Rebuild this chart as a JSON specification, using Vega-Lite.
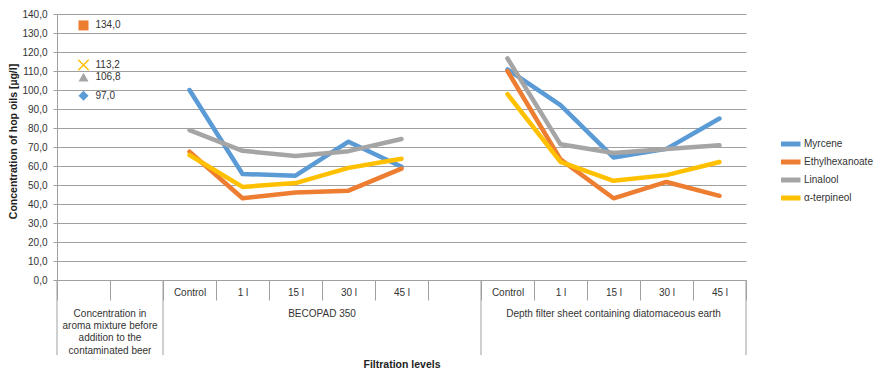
{
  "$schema": "https://vega.github.io/schema/vega-lite/v6.json",
  "width": 689,
  "height": 266,
  "autosize": {"type": "none"},
  "padding": {"left": 57, "top": 14, "right": 130, "bottom": 93},
  "config": {
    "locale": {"number": {"decimal": ",", "thousands": ".", "grouping": [3], "currency": ["", " €"]}},
    "view": {"stroke": null},
    "font": "Liberation Sans",
    "text": {"font": "Liberation Sans", "fontSize": 10, "color": "#333333"},
    "axis": {
      "labelFont": "Liberation Sans",
      "labelFontSize": 10,
      "labelColor": "#333333",
      "titleFont": "Liberation Sans",
      "titleFontSize": 10.5,
      "titleFontWeight": "bold",
      "titleColor": "#222222",
      "domain": true,
      "domainColor": "#a0a0a0",
      "tickColor": "#a0a0a0",
      "gridColor": "#a0a0a0",
      "gridOpacity": 1
    },
    "legend": {
      "labelFont": "Liberation Sans",
      "labelFontSize": 10,
      "labelColor": "#333333"
    }
  },
  "datasets": {
    "lines": [
      {"stage": "c02:Control", "block": "B", "oil": "Myrcene", "value": 100.0},
      {"stage": "c03:1 l", "block": "B", "oil": "Myrcene", "value": 55.8},
      {"stage": "c04:15 l", "block": "B", "oil": "Myrcene", "value": 54.9},
      {"stage": "c05:30 l", "block": "B", "oil": "Myrcene", "value": 72.8},
      {"stage": "c06:45 l", "block": "B", "oil": "Myrcene", "value": 59.6},
      {"stage": "c08:Control", "block": "D", "oil": "Myrcene", "value": 110.8},
      {"stage": "c09:1 l", "block": "D", "oil": "Myrcene", "value": 92.0},
      {"stage": "c10:15 l", "block": "D", "oil": "Myrcene", "value": 64.5},
      {"stage": "c11:30 l", "block": "D", "oil": "Myrcene", "value": 69.0},
      {"stage": "c12:45 l", "block": "D", "oil": "Myrcene", "value": 85.0},
      {"stage": "c02:Control", "block": "B", "oil": "Ethylhexanoate", "value": 67.5},
      {"stage": "c03:1 l", "block": "B", "oil": "Ethylhexanoate", "value": 43.0},
      {"stage": "c04:15 l", "block": "B", "oil": "Ethylhexanoate", "value": 46.0},
      {"stage": "c05:30 l", "block": "B", "oil": "Ethylhexanoate", "value": 47.0},
      {"stage": "c06:45 l", "block": "B", "oil": "Ethylhexanoate", "value": 58.6},
      {"stage": "c08:Control", "block": "D", "oil": "Ethylhexanoate", "value": 110.0},
      {"stage": "c09:1 l", "block": "D", "oil": "Ethylhexanoate", "value": 63.5},
      {"stage": "c10:15 l", "block": "D", "oil": "Ethylhexanoate", "value": 43.0},
      {"stage": "c11:30 l", "block": "D", "oil": "Ethylhexanoate", "value": 51.6},
      {"stage": "c12:45 l", "block": "D", "oil": "Ethylhexanoate", "value": 44.3},
      {"stage": "c02:Control", "block": "B", "oil": "Linalool", "value": 78.9},
      {"stage": "c03:1 l", "block": "B", "oil": "Linalool", "value": 68.0},
      {"stage": "c04:15 l", "block": "B", "oil": "Linalool", "value": 65.3},
      {"stage": "c05:30 l", "block": "B", "oil": "Linalool", "value": 67.8},
      {"stage": "c06:45 l", "block": "B", "oil": "Linalool", "value": 74.2},
      {"stage": "c08:Control", "block": "D", "oil": "Linalool", "value": 116.6},
      {"stage": "c09:1 l", "block": "D", "oil": "Linalool", "value": 71.4},
      {"stage": "c10:15 l", "block": "D", "oil": "Linalool", "value": 66.8},
      {"stage": "c11:30 l", "block": "D", "oil": "Linalool", "value": 68.9},
      {"stage": "c12:45 l", "block": "D", "oil": "Linalool", "value": 70.9},
      {"stage": "c02:Control", "block": "B", "oil": "α-terpineol", "value": 65.8},
      {"stage": "c03:1 l", "block": "B", "oil": "α-terpineol", "value": 49.0},
      {"stage": "c04:15 l", "block": "B", "oil": "α-terpineol", "value": 51.0},
      {"stage": "c05:30 l", "block": "B", "oil": "α-terpineol", "value": 59.0},
      {"stage": "c06:45 l", "block": "B", "oil": "α-terpineol", "value": 63.8},
      {"stage": "c08:Control", "block": "D", "oil": "α-terpineol", "value": 97.8},
      {"stage": "c09:1 l", "block": "D", "oil": "α-terpineol", "value": 62.2},
      {"stage": "c10:15 l", "block": "D", "oil": "α-terpineol", "value": 52.2},
      {"stage": "c11:30 l", "block": "D", "oil": "α-terpineol", "value": 55.2},
      {"stage": "c12:45 l", "block": "D", "oil": "α-terpineol", "value": 62.1}
    ],
    "markers": [
      {"stage": "c00:", "oil": "Myrcene", "value": 97.0},
      {"stage": "c00:", "oil": "Ethylhexanoate", "value": 134.0},
      {"stage": "c00:", "oil": "Linalool", "value": 106.8},
      {"stage": "c00:", "oil": "α-terpineol", "value": 113.2}
    ],
    "seps": [
      {"stage": "c00:"},
      {"stage": "c02:Control"},
      {"stage": "c08:Control"}
    ],
    "groupsEdge": [
      {"stage": "c01:", "label": "Concentration in\naroma mixture before\naddition to the\ncontaminated beer"},
      {"stage": "c05:30 l", "label": "BECOPAD 350"}
    ],
    "groupsMid": [
      {"stage": "c10:15 l", "label": "Depth filter sheet containing diatomaceous earth"}
    ]
  },
  "layer": [
    {
      "data": {"name": "lines"},
      "mark": {"type": "line", "strokeWidth": 4.5, "strokeJoin": "round", "strokeCap": "round"},
      "encoding": {
        "x": {
          "field": "stage", "type": "nominal", "title": "Filtration levels",
          "scale": {"type": "band", "paddingInner": 0, "paddingOuter": 0,
            "domain": ["c00:", "c01:", "c02:Control", "c03:1 l", "c04:15 l", "c05:30 l", "c06:45 l", "c07:", "c08:Control", "c09:1 l", "c10:15 l", "c11:30 l", "c12:45 l"]},
          "axis": {
            "title": "Filtration levels",
            "titlePadding": 59,
            "tickBand": "extent",
            "tickSize": 20,
            "labelPadding": -13,
            "labelAngle": 0,
            "labelExpr": "split(datum.value, ':')[1]",
            "grid": false
          }
        },
        "y": {
          "field": "value", "type": "quantitative", "title": "Concentration of hop oils [µg/l]",
          "scale": {"domain": [0, 140], "nice": false},
          "axis": {"title": "Concentration of hop oils [µg/l]", "titlePadding": 3, "titleY": 127, "values": [0, 10, 20, 30, 40, 50, 60, 70, 80, 90, 100, 110, 120, 130, 140], "format": ".1f", "tickSize": 4, "labelPadding": 6, "grid": true, "domain": true}
        },
        "color": {
          "field": "oil", "type": "nominal",
          "scale": {"domain": ["Myrcene", "Ethylhexanoate", "Linalool", "α-terpineol"],
                    "range": ["#5B9BD5", "#ED7D31", "#A5A5A5", "#FFC000"]},
          "legend": {
            "title": null,
            "orient": "none",
            "legendX": 724,
            "legendY": 121,
            "symbolType": "M-2.4,0L2.4,0",
            "symbolStrokeWidth": 5,
            "symbolSize": 100,
            "labelOffset": 8,
            "clipHeight": 18,
            "rowPadding": 0
          }
        },
        "detail": {"field": "block", "type": "nominal"}
      }
    },
    {
      "data": {"name": "seps"},
      "mark": {"type": "rule", "color": "#a0a0a0", "strokeWidth": 1},
      "encoding": {
        "x": {"field": "stage", "type": "nominal", "bandPosition": 0, "title": "Filtration levels"},
        "y": {"datum": 0, "type": "quantitative", "scale": {"domain": [0, 140], "nice": false}, "title": "Concentration of hop oils [µg/l]",
          "axis": {"title": "Concentration of hop oils [µg/l]", "titlePadding": 3, "titleY": 127, "values": [0, 10, 20, 30, 40, 50, 60, 70, 80, 90, 100, 110, 120, 130, 140], "format": ".1f", "tickSize": 4, "labelPadding": 6, "grid": true, "domain": true}},
        "y2": {"datum": -39.5}
      }
    },
    {
      "data": {"values": [{"stage": "c12:45 l"}]},
      "mark": {"type": "rule", "color": "#a0a0a0", "strokeWidth": 1},
      "encoding": {
        "x": {"field": "stage", "type": "nominal", "bandPosition": 1, "title": "Filtration levels"},
        "y": {"datum": 0, "type": "quantitative", "scale": {"domain": [0, 140], "nice": false}, "title": "Concentration of hop oils [µg/l]",
          "axis": {"title": "Concentration of hop oils [µg/l]", "titlePadding": 3, "titleY": 127, "values": [0, 10, 20, 30, 40, 50, 60, 70, 80, 90, 100, 110, 120, 130, 140], "format": ".1f", "tickSize": 4, "labelPadding": 6, "grid": true, "domain": true}},
        "y2": {"datum": -39.5}
      }
    },
    {
      "data": {"name": "groupsEdge"},
      "mark": {"type": "text", "align": "center", "baseline": "top", "lineBreak": "\n", "lineHeight": 12.3, "fontSize": 10},
      "encoding": {
        "x": {"field": "stage", "type": "nominal", "bandPosition": 0, "title": "Filtration levels"},
        "y": {"datum": -15.2, "type": "quantitative", "scale": {"domain": [0, 140], "nice": false}, "title": "Concentration of hop oils [µg/l]",
          "axis": {"title": "Concentration of hop oils [µg/l]", "titlePadding": 3, "titleY": 127, "values": [0, 10, 20, 30, 40, 50, 60, 70, 80, 90, 100, 110, 120, 130, 140], "format": ".1f", "tickSize": 4, "labelPadding": 6, "grid": true, "domain": true}},
        "text": {"field": "label"}
      }
    },
    {
      "data": {"name": "groupsMid"},
      "mark": {"type": "text", "align": "center", "baseline": "top", "fontSize": 10},
      "encoding": {
        "x": {"field": "stage", "type": "nominal", "bandPosition": 0.5, "title": "Filtration levels"},
        "y": {"datum": -15.2, "type": "quantitative", "scale": {"domain": [0, 140], "nice": false}, "title": "Concentration of hop oils [µg/l]",
          "axis": {"title": "Concentration of hop oils [µg/l]", "titlePadding": 3, "titleY": 127, "values": [0, 10, 20, 30, 40, 50, 60, 70, 80, 90, 100, 110, 120, 130, 140], "format": ".1f", "tickSize": 4, "labelPadding": 6, "grid": true, "domain": true}},
        "text": {"field": "label"}
      }
    },
    {
      "data": {"name": "markers"},
      "transform": [{"filter": "datum.oil != 'α-terpineol'"}],
      "mark": {"type": "point", "filled": true, "opacity": 1, "size": 100},
      "encoding": {
        "x": {"field": "stage", "type": "nominal", "title": "Filtration levels"},
        "y": {"field": "value", "type": "quantitative", "scale": {"domain": [0, 140], "nice": false}, "title": "Concentration of hop oils [µg/l]",
          "axis": {"title": "Concentration of hop oils [µg/l]", "titlePadding": 3, "titleY": 127, "values": [0, 10, 20, 30, 40, 50, 60, 70, 80, 90, 100, 110, 120, 130, 140], "format": ".1f", "tickSize": 4, "labelPadding": 6, "grid": true, "domain": true}},
        "fill": {"field": "oil", "type": "nominal", "legend": null,
                 "scale": {"domain": ["Myrcene", "Ethylhexanoate", "Linalool"], "range": ["#5B9BD5", "#ED7D31", "#A5A5A5"]}},
        "shape": {"field": "oil", "type": "nominal", "legend": null,
                  "scale": {"domain": ["Myrcene", "Ethylhexanoate", "Linalool"], "range": ["diamond", "square", "triangle-up"]}}
      }
    },
    {
      "data": {"name": "markers"},
      "transform": [{"filter": "datum.oil == 'α-terpineol'"}],
      "mark": {"type": "point", "filled": false, "opacity": 1, "size": 110, "stroke": "#FFC000", "strokeWidth": 1.5, "shape": "M-1,-1L1,1M-1,1L1,-1"},
      "encoding": {
        "x": {"field": "stage", "type": "nominal", "title": "Filtration levels"},
        "y": {"field": "value", "type": "quantitative", "scale": {"domain": [0, 140], "nice": false}, "title": "Concentration of hop oils [µg/l]",
          "axis": {"title": "Concentration of hop oils [µg/l]", "titlePadding": 3, "titleY": 127, "values": [0, 10, 20, 30, 40, 50, 60, 70, 80, 90, 100, 110, 120, 130, 140], "format": ".1f", "tickSize": 4, "labelPadding": 6, "grid": true, "domain": true}}
      }
    },
    {
      "data": {"name": "markers"},
      "mark": {"type": "text", "align": "left", "baseline": "middle", "dx": 12, "fontSize": 10},
      "encoding": {
        "x": {"field": "stage", "type": "nominal", "title": "Filtration levels"},
        "y": {"field": "value", "type": "quantitative", "scale": {"domain": [0, 140], "nice": false}, "title": "Concentration of hop oils [µg/l]",
          "axis": {"title": "Concentration of hop oils [µg/l]", "titlePadding": 3, "titleY": 127, "values": [0, 10, 20, 30, 40, 50, 60, 70, 80, 90, 100, 110, 120, 130, 140], "format": ".1f", "tickSize": 4, "labelPadding": 6, "grid": true, "domain": true}},
        "text": {"field": "value", "type": "quantitative", "format": ".1f"}
      }
    }
  ]
}
